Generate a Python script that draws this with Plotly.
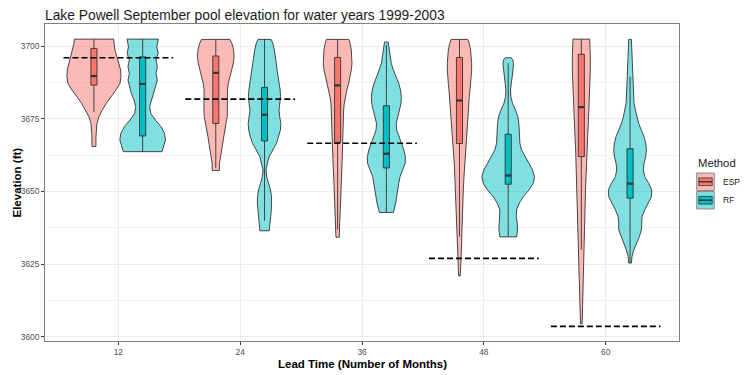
import plotly.graph_objects as go

# ---------------- data ----------------
lead_times = [12, 24, 36, 48, 60]
methods = ["ESP", "RF"]
observed = [3696.0, 3681.8, 3666.6, 3627.0, 3603.6]

# boxplot statistics (ft)
esp_q1 = [3686.6, 3673.4, 3666.9, 3666.5, 3662.0]
esp_med = [3689.7, 3690.8, 3686.5, 3681.3, 3679.0]
esp_q3 = [3699.2, 3696.6, 3696.1, 3696.1, 3697.2]
esp_lo = [3677.4, 3658.0, 3637.0, 3634.5, 3630.0]
esp_hi = [3702.4, 3702.4, 3702.4, 3702.4, 3702.4]

rf_q1 = [3669.1, 3667.4, 3658.1, 3652.5, 3647.7]
rf_med = [3687.0, 3676.4, 3663.0, 3655.5, 3652.7]
rf_q3 = [3696.3, 3685.8, 3679.5, 3669.7, 3664.7]
rf_lo = [3663.7, 3640.0, 3642.8, 3634.5, 3625.4]
rf_hi = [3702.4, 3702.4, 3700.5, 3694.1, 3689.5]

# violin density profiles (elevation, relative density)
esp12_elev = [3702.4, 3700.9, 3698.6, 3696.3, 3694.0, 3691.8, 3689.5, 3687.2, 3684.9, 3682.6, 3680.3, 3678.0, 3675.7, 3673.4, 3671.1, 3668.9, 3665.5]
esp12_dens = [59, 60, 63, 69, 75, 80, 81, 78, 66, 51, 37, 25, 15, 9, 7, 6, 6]
rf12_elev = [3702.4, 3699.8, 3697.5, 3695.2, 3692.9, 3690.6, 3688.3, 3686.0, 3683.7, 3681.5, 3679.2, 3676.9, 3674.6, 3672.3, 3670.0, 3667.7, 3665.4, 3663.7]
rf12_dens = [47, 42.5, 46.5, 40, 44, 40, 44, 38, 34, 26, 21, 24, 38, 55, 65.5, 68.5, 62, 58]

esp24_elev = [3702.3, 3700.9, 3698.6, 3696.3, 3694.0, 3691.8, 3689.5, 3687.2, 3684.9, 3682.6, 3680.3, 3678.0, 3675.7, 3673.4, 3671.1, 3668.9, 3666.6, 3664.3, 3662.0, 3659.7, 3657.2]
esp24_dens = [42.5, 48.5, 53.5, 55, 52.5, 47.5, 42.5, 37.5, 35, 34.5, 35.5, 35.5, 34.5, 30.5, 27, 23.5, 20.5, 17.5, 13.5, 11, 10.5]
rf24_elev = [3702.3, 3700.9, 3698.6, 3696.3, 3694.0, 3691.8, 3689.5, 3687.2, 3684.9, 3682.6, 3680.3, 3678.0, 3675.7, 3673.4, 3671.1, 3668.9, 3666.6, 3664.3, 3662.0, 3659.7, 3657.4, 3655.1, 3652.8, 3650.5, 3648.2, 3646.0, 3643.7, 3641.4, 3639.1, 3636.5]
rf24_dens = [20, 25, 29.5, 33.5, 35.5, 37.5, 41, 44, 47, 48, 46.5, 43.5, 45.5, 49, 47.5, 43, 36, 25, 14, 8.5, 4.5, 6.5, 12, 18, 21, 21.5, 20.5, 18.5, 16, 14]

esp36_elev = [3702.3, 3700.9, 3698.6, 3696.3, 3694.0, 3691.8, 3689.5, 3687.2, 3684.9, 3682.6, 3680.3, 3678.0, 3675.7, 3671.1, 3666.6, 3662.0, 3657.4, 3652.8, 3648.2, 3643.7, 3639.1, 3634.3]
esp36_dens = [33.5, 37.5, 41, 43, 43, 41, 37.5, 33, 27.5, 23, 20, 18, 17, 16, 15, 14, 13, 11, 9, 8, 6, 5]
rf36_elev = [3701.4, 3698.6, 3696.3, 3694.0, 3691.8, 3689.5, 3687.2, 3684.9, 3682.6, 3680.3, 3678.0, 3675.7, 3673.4, 3671.1, 3668.9, 3666.6, 3664.3, 3662.0, 3659.7, 3657.4, 3655.1, 3652.8, 3650.5, 3648.2, 3646.0, 3642.8]
rf36_dens = [5.5, 9, 12, 15, 21, 29, 37, 42.5, 45, 44, 39.5, 33.5, 29.5, 31, 37, 45.5, 52.5, 57, 56.5, 49, 41, 37, 34, 31, 28, 21]

esp48_elev = [3702.3, 3700.9, 3698.6, 3696.3, 3694.0, 3691.8, 3689.5, 3687.2, 3684.9, 3682.6, 3678.0, 3673.4, 3668.9, 3664.3, 3659.7, 3655.1, 3650.5, 3646.0, 3641.4, 3636.8, 3632.2, 3627.7, 3624.2, 3621.0]
esp48_dens = [25, 29.5, 33.5, 35.5, 36.5, 36.5, 35.5, 33.5, 31.5, 29.5, 26.5, 24, 21, 18.5, 15.5, 13.5, 11.5, 9.5, 8.5, 7.5, 6.5, 5.5, 3.5, 2.5]
rf48_elev = [3696.0, 3695.2, 3694.0, 3691.8, 3689.5, 3687.2, 3684.9, 3682.6, 3680.3, 3678.0, 3675.7, 3673.4, 3671.1, 3668.9, 3666.6, 3664.3, 3662.0, 3659.7, 3657.4, 3655.1, 3652.8, 3650.5, 3648.2, 3646.0, 3643.7, 3641.4, 3639.1, 3636.8, 3634.4]
rf48_dens = [9, 14, 16, 15, 12, 9, 7, 8, 13, 22, 29, 32, 33, 33, 35, 40, 50, 62, 73, 79, 75, 62, 45, 33, 25, 24, 27, 28, 25]

esp60_elev = [3702.4, 3700.9, 3696.3, 3691.8, 3687.2, 3682.6, 3678.0, 3673.4, 3668.9, 3664.3, 3659.7, 3655.1, 3650.5, 3646.0, 3641.4, 3636.8, 3632.2, 3627.7, 3623.1, 3618.5, 3613.9, 3609.3, 3604.5]
esp60_dens = [25, 26, 27, 27, 26, 24, 22, 21, 19, 17, 15, 14, 12.5, 11.5, 10.5, 9.5, 8.5, 7.5, 6.5, 5.5, 4.5, 3.5, 2.5]
rf60_elev = [3702.3, 3698.6, 3694.0, 3689.5, 3684.9, 3680.3, 3678.0, 3675.7, 3673.4, 3671.1, 3668.9, 3666.6, 3664.3, 3662.0, 3659.7, 3657.4, 3655.1, 3652.8, 3650.5, 3648.2, 3646.0, 3643.7, 3641.4, 3639.1, 3636.8, 3634.5, 3632.2, 3629.9, 3627.7, 3625.4]
rf60_dens = [4, 5, 7, 8, 10, 12, 16, 20, 26, 34, 42, 47, 49, 47, 42, 40, 44, 56, 65, 64, 54, 44, 36, 34, 34, 28, 19, 11, 6, 4]

# ---------------- styling ----------------
FILL = {"ESP": "#F8766D", "RF": "#00BFC4"}
VFILL = {"ESP": "rgba(248,118,109,0.5)", "RF": "rgba(0,191,196,0.5)"}
EDGE = "#333333"
DODGE = 2.4          # months offset of each method from lead time
DENS_SCALE = 0.03284  # density units -> months half-width
BOX_HALF = 0.3
OBS_HALF = 5.4
FONT = "Liberation Sans, Arial, sans-serif"

# figure geometry (page body adds an 8px offset)
FIG_W, FIG_H = 742, 367
ML, MR, MT, MB = 37, 71, 16, 34
PLOT_W = FIG_W - ML - MR
PLOT_H = FIG_H - MT - MB
OFF = 8


def pxx(x_page):
    return (x_page - OFF - ML) / PLOT_W


def pxy(y_page):
    return (FIG_H - MB - (y_page - OFF)) / PLOT_H


profiles = {
    "ESP": [(esp12_elev, esp12_dens), (esp24_elev, esp24_dens), (esp36_elev, esp36_dens),
            (esp48_elev, esp48_dens), (esp60_elev, esp60_dens)],
    "RF": [(rf12_elev, rf12_dens), (rf24_elev, rf24_dens), (rf36_elev, rf36_dens),
           (rf48_elev, rf48_dens), (rf60_elev, rf60_dens)],
}
stats = {
    "ESP": (esp_q1, esp_med, esp_q3, esp_lo, esp_hi),
    "RF": (rf_q1, rf_med, rf_q3, rf_lo, rf_hi),
}
offset = {"ESP": -DODGE, "RF": DODGE}

fig = go.Figure()

# violins
for m in methods:
    for i, lt in enumerate(lead_times):
        elev, dens = profiles[m][i]
        c = lt + offset[m]
        xs = [c + d * DENS_SCALE for d in dens] + [c - d * DENS_SCALE for d in reversed(dens)]
        ys = list(elev) + list(reversed(elev))
        xs.append(xs[0]); ys.append(ys[0])
        fig.add_trace(go.Scatter(
            x=xs, y=ys, mode="lines", fill="toself", fillcolor=VFILL[m],
            line=dict(color=EDGE, width=0.9), name=m, showlegend=False, hoverinfo="skip"))

# boxes
for m in methods:
    q1, med, q3, lo, hi = stats[m]
    for i, lt in enumerate(lead_times):
        c = lt + offset[m]
        fig.add_trace(go.Scatter(
            x=[c, c, None, c, c], y=[q3[i], hi[i], None, q1[i], lo[i]],
            mode="lines", line=dict(color=EDGE, width=0.9), showlegend=False, hoverinfo="skip"))
        fig.add_trace(go.Scatter(
            x=[c - BOX_HALF, c + BOX_HALF, c + BOX_HALF, c - BOX_HALF, c - BOX_HALF],
            y=[q1[i], q1[i], q3[i], q3[i], q1[i]],
            mode="lines", fill="toself", fillcolor=FILL[m],
            line=dict(color=EDGE, width=0.9), showlegend=False, hoverinfo="skip"))
        fig.add_trace(go.Scatter(
            x=[c - BOX_HALF, c + BOX_HALF], y=[med[i], med[i]],
            mode="lines", line=dict(color=EDGE, width=2.2), showlegend=False, hoverinfo="skip"))

# observed dashed lines
ox, oy = [], []
for lt, ob in zip(lead_times, observed):
    ox += [lt - OBS_HALF, lt + OBS_HALF, None]
    oy += [ob, ob, None]
fig.add_trace(go.Scatter(x=ox, y=oy, mode="lines",
                         line=dict(color="black", width=1.7, dash="6px,3px"),
                         showlegend=False, hoverinfo="skip"))

# ---------------- manual legend (ggplot style keys) ----------------
shapes = []
annotations = [
    dict(text="<b>Elevation (ft)</b>", textangle=-90,
         xref="paper", yref="paper", x=pxx(16), y=0.5,
         xanchor="center", yanchor="middle", showarrow=False,
         font=dict(family=FONT, size=11.5, color="#000000")),
    dict(text="<b>Lead Time (Number of Months)</b>",
         xref="paper", yref="paper", x=0.5, y=pxy(364),
         xanchor="center", yanchor="middle", showarrow=False,
         font=dict(family=FONT, size=11.5, color="#000000")),
    dict(text="Method", xref="paper", yref="paper", x=pxx(696), y=pxy(163),
         xanchor="left", yanchor="middle", showarrow=False,
         font=dict(family=FONT, size=11.3, color="#1A1A1A")),
]
key_x0, key_x1 = 696.7, 714.3
key_tops = {"ESP": 173.0, "RF": 191.5}
KEY_H = 17.5
for m in methods:
    t = key_tops[m]
    b = t + KEY_H
    shapes.append(dict(type="rect", xref="paper", yref="paper",
                       x0=pxx(key_x0), x1=pxx(key_x1), y0=pxy(b), y1=pxy(t),
                       fillcolor=VFILL[m], line=dict(color="#8C8C8C", width=1)))
    bx0 = key_x0 + 0.12 * (key_x1 - key_x0)
    bx1 = key_x1 - 0.12 * (key_x1 - key_x0)
    shapes.append(dict(type="rect", xref="paper", yref="paper",
                       x0=pxx(bx0), x1=pxx(bx1), y0=pxy(t + 0.72 * KEY_H), y1=pxy(t + 0.28 * KEY_H),
                       fillcolor=FILL[m], line=dict(color=EDGE, width=0.8)))
    shapes.append(dict(type="line", xref="paper", yref="paper",
                       x0=pxx(bx0), x1=pxx(bx1), y0=pxy(t + 0.5 * KEY_H), y1=pxy(t + 0.5 * KEY_H),
                       line=dict(color=EDGE, width=1.4)))
    annotations.append(dict(text=m, xref="paper", yref="paper", x=pxx(720.5), y=pxy(t + KEY_H / 2),
                            xanchor="left", yanchor="middle", showarrow=False,
                            font=dict(family=FONT, size=8.5, color="#1A1A1A")))

fig.update_layout(
    width=FIG_W, height=FIG_H,
    margin=dict(l=ML, r=MR, t=MT, b=MB, autoexpand=False),
    paper_bgcolor="white", plot_bgcolor="white",
    font=dict(family=FONT, color="#4D4D4D", size=8),
    title=dict(text="Lake Powell September pool elevation for water years 1999-2003",
               x=ML / FIG_W, xanchor="left", y=1.0, yanchor="top", pad=dict(t=2, b=0, l=0),
               font=dict(family=FONT, size=13.8, color="#1A1A1A")),
    showlegend=False,
    shapes=shapes,
    annotations=annotations,
)
fig.update_xaxes(
    automargin=False,
    range=[4.78, 67.22], tickvals=lead_times, ticktext=[str(v) for v in lead_times],
    showgrid=True, gridcolor="#EBEBEB", gridwidth=1,
    ticks="outside", ticklen=3, tickcolor="#333333",
    showline=True, linecolor="#7F7F7F", linewidth=1, mirror=True, zeroline=False,
    tickfont=dict(size=8.3, color="#4D4D4D"),
)
fig.update_yaxes(
    automargin=False,
    range=[3598.6, 3707.6], tickvals=[3600, 3625, 3650, 3675, 3700],
    showgrid=True, gridcolor="#EBEBEB", gridwidth=1,
    minor=dict(tickvals=[3612.5, 3637.5, 3662.5, 3687.5], showgrid=True,
               gridcolor="#F3F3F3", gridwidth=0.6, ticks=""),
    ticks="outside", ticklen=3, tickcolor="#333333",
    showline=True, linecolor="#7F7F7F", linewidth=1, mirror=True, zeroline=False,
    tickfont=dict(size=8.3, color="#4D4D4D"),
)

fig.write_html("out.html")
